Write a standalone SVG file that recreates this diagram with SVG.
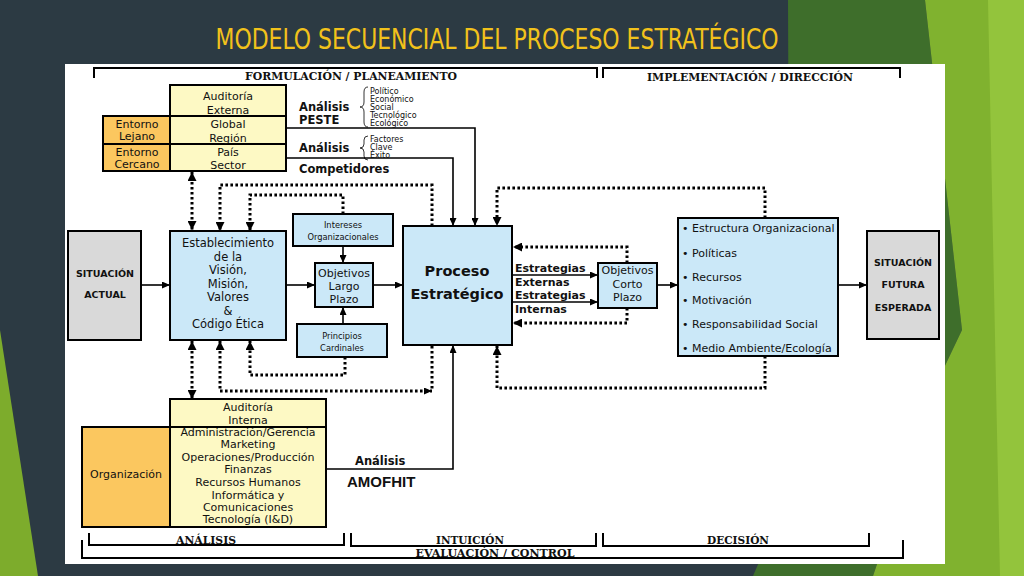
<svg xmlns="http://www.w3.org/2000/svg" width="1024" height="576" viewBox="0 0 1024 576">
<defs>
<style>
.box{stroke:#000;stroke-width:2}
.blue{fill:#cbe8f8}
.yel{fill:#fdf9c4}
.org{fill:#fbc75f}
.gray{fill:#d9d9d9}
.t{font-family:"DejaVu Sans",Verdana,sans-serif;fill:#111;text-anchor:middle}
.b{font-family:"DejaVu Sans",Verdana,sans-serif;font-weight:bold;fill:#111}
.s{font-family:"DejaVu Serif",serif;font-weight:bold;fill:#111;text-anchor:middle;font-size:10.5px}
.sol{fill:none;stroke:#000;stroke-width:1.6}
.dot{fill:none;stroke:#000;stroke-width:3;stroke-dasharray:2.6 2.4}
.brk{fill:none;stroke:#000;stroke-width:2}
.brc{fill:none;stroke:#000;stroke-width:0.8}
</style>
<marker id="as" markerUnits="userSpaceOnUse" markerWidth="8" markerHeight="7" refX="8" refY="3.5" orient="auto-start-reverse"><path d="M0,0 L8,3.5 L0,7 z" fill="#000"/></marker>
<marker id="ad" markerUnits="userSpaceOnUse" markerWidth="9" markerHeight="9" refX="9" refY="4.5" orient="auto-start-reverse"><path d="M0,0 L9,4.5 L0,9 z" fill="#000"/></marker>
</defs>
<!-- background -->
<rect x="0" y="0" width="1024" height="576" fill="#2c3a43"/>
<polygon points="788,0 925,0 962,330 942,372 873,576 753,576 790,490" fill="#3e6e2b"/>
<polygon points="925,0 1024,0 1024,576 873,576 942,372 962,330" fill="#80b22f"/>
<polygon points="988,0 1024,0 1024,576 1000,576" fill="#93c43c"/>
<polygon points="0,330 38,576 0,576" fill="#7dac2c"/>
<text x="497" y="49" font-family="'Liberation Sans Narrow','DejaVu Sans Condensed',sans-serif" font-size="28" fill="#f2c21b" text-anchor="middle" textLength="563" lengthAdjust="spacingAndGlyphs">MODELO SECUENCIAL DEL PROCESO ESTRATÉGICO</text>
<rect x="65" y="64" width="880" height="500" fill="#fff"/>

<!-- brackets -->
<g id="brackets">
<path class="brk" d="M94,78 V68 H597 V78"/>
<path class="brk" d="M603,78 V68 H900 V78"/>
<text class="s" x="351" y="80" textLength="212" lengthAdjust="spacingAndGlyphs">FORMULACIÓN  / PLANEAMIENTO</text>
<text class="s" x="750" y="81" textLength="206" lengthAdjust="spacingAndGlyphs">IMPLEMENTACIÓN  / DIRECCIÓN</text>
<path class="brk" d="M89,533 V545 H344 V533"/>
<path class="brk" d="M351,533 V546 H596 V533"/>
<path class="brk" d="M603,533 V546 H869 V533"/>
<path class="brk" d="M82,540 V558 H903 V540"/>
<text class="s" x="206" y="543.5" textLength="60" lengthAdjust="spacingAndGlyphs">ANÁLISIS</text>
<text class="s" x="470" y="544" textLength="68" lengthAdjust="spacingAndGlyphs">INTUICIÓN</text>
<text class="s" x="738" y="544" textLength="62" lengthAdjust="spacingAndGlyphs">DECISIÓN</text>
<text class="s" x="495" y="556.5" textLength="159" lengthAdjust="spacingAndGlyphs">EVALUACIÓN  / CONTROL</text>
</g>

<!-- connectors -->
<g id="connectors">
<path class="sol" d="M141,285 H170" marker-end="url(#as)"/>
<path class="sol" d="M286,285 H315" marker-end="url(#as)"/>
<path class="sol" d="M343,246 V263" marker-end="url(#as)"/>
<path class="sol" d="M343,324 V307" marker-end="url(#as)"/>
<path class="sol" d="M373,285 H403" marker-end="url(#as)"/>
<path class="sol" d="M286,128 H475 V226" marker-end="url(#as)"/>
<path class="sol" d="M286,158 H453 V226" marker-end="url(#as)"/>
<path class="sol" d="M512,275 H598" marker-end="url(#as)"/>
<path class="sol" d="M512,302 H598" marker-end="url(#as)"/>
<path class="sol" d="M657,285 H678" marker-end="url(#as)"/>
<path class="sol" d="M838,285 H867" marker-end="url(#as)"/>
<path class="sol" d="M326,469 H453 V345" marker-end="url(#as)"/>
<path class="dot" d="M192,172 V230" marker-start="url(#ad)" marker-end="url(#ad)"/>
<path class="dot" d="M432,226 V185 H220 V231" marker-end="url(#ad)"/>
<path class="dot" d="M343,214 V195 H250 V231" marker-end="url(#ad)"/>
<path class="dot" d="M765,218 V188 H497 V226" marker-end="url(#ad)"/>
<path class="dot" d="M627,263 V247 H513" marker-end="url(#ad)"/>
<path class="dot" d="M627,308 V323 H513" marker-end="url(#ad)"/>
<path class="dot" d="M192,341 V399" marker-start="url(#ad)" marker-end="url(#ad)"/>
<path class="dot" d="M220,341 V391 H432" marker-start="url(#ad)" marker-end="url(#as)"/>
<path class="dot" d="M432,346 V391"/>
<path class="dot" d="M345,357 V375 H250 V341" marker-end="url(#ad)"/>
<path class="dot" d="M765,356 V388 H497 V346" marker-end="url(#ad)"/>
</g>

<!-- external audit -->
<g id="auditoria-externa">
<rect class="box yel" x="170" y="85" width="116" height="86"/>
<line class="box" x1="170" y1="116" x2="286" y2="116"/>
<line class="box" x1="170" y1="144" x2="286" y2="144"/>
<text class="t" font-size="11" x="228" y="100">Auditoría</text>
<text class="t" font-size="11" x="228" y="114">Externa</text>
<text class="t" font-size="11" x="228" y="128">Global</text>
<text class="t" font-size="11" x="228" y="142">Región</text>
<text class="t" font-size="11" x="228" y="156">País</text>
<text class="t" font-size="11" x="228" y="169">Sector</text>
</g>
<g id="entorno-lejano">
<rect class="box org" x="103" y="116" width="67" height="28"/>
<text class="t" font-size="11" x="137" y="128">Entorno</text>
<text class="t" font-size="11" x="137" y="140">Lejano</text>
</g>
<g id="entorno-cercano">
<rect class="box org" x="103" y="144" width="67" height="27"/>
<text class="t" font-size="11" x="137" y="156">Entorno</text>
<text class="t" font-size="11" x="137" y="168">Cercano</text>
</g>

<!-- analysis labels -->
<g id="analisis-peste">
<text class="b" font-size="11.5" x="299" y="111">Análisis</text>
<text class="b" font-size="11.5" x="299" y="124">PESTE</text>
<path class="brc" d="M368,87 Q364,87 364,92 V102 Q364,107 360,107 Q364,107 364,112 V122 Q364,127 368,127"/>
<g class="t" font-size="8" style="text-anchor:start">
<text x="370" y="94">Político</text>
<text x="370" y="102">Económico</text>
<text x="370" y="110">Social</text>
<text x="370" y="118">Tecnológico</text>
<text x="370" y="126">Ecológico</text>
</g>
</g>
<g id="analisis-fce">
<text class="b" font-size="11.5" x="299" y="152">Análisis</text>
<path class="brc" d="M368,136 Q364,136 364,140 V144 Q364,148 360,148 Q364,148 364,152 V156 Q364,160 368,160"/>
<g class="t" font-size="8" style="text-anchor:start">
<text x="370" y="142">Factores</text>
<text x="370" y="150">Clave</text>
<text x="370" y="158">Éxito</text>
</g>
</g>
<g id="competidores">
<text class="b" font-size="11.5" x="299" y="173">Competidores</text>
</g>

<!-- situacion actual -->
<g id="situacion-actual">
<rect class="box gray" x="68" y="231" width="73" height="109"/>
<text class="b" font-size="9.5" x="105" y="277" text-anchor="middle">SITUACIÓN</text>
<text class="b" font-size="9.5" x="105" y="298" text-anchor="middle">ACTUAL</text>
</g>

<g id="establecimiento">
<rect class="box blue" x="170" y="231" width="116" height="109"/>
<g class="t" font-size="11.5">
<text x="228" y="247">Establecimiento</text>
<text x="228" y="261">de la</text>
<text x="228" y="274">Visión,</text>
<text x="228" y="288">Misión,</text>
<text x="228" y="301">Valores</text>
<text x="228" y="315">&amp;</text>
<text x="228" y="328">Código  Ética</text>
</g>
</g>

<g id="intereses">
<rect class="box blue" x="293" y="214" width="100" height="32"/>
<text class="t" font-size="8.3" x="343" y="228">Intereses</text>
<text class="t" font-size="8.3" x="343" y="240">Organizacionales</text>
</g>
<g id="objetivos-lp">
<rect class="box blue" x="315" y="263" width="58" height="44"/>
<text class="t" font-size="11" x="344" y="277">Objetivos</text>
<text class="t" font-size="11" x="344" y="290">Largo</text>
<text class="t" font-size="11" x="344" y="303">Plazo</text>
</g>
<g id="principios">
<rect class="box blue" x="297" y="324" width="90" height="33"/>
<text class="t" font-size="8.3" x="342" y="339">Principios</text>
<text class="t" font-size="8.3" x="342" y="351">Cardinales</text>
</g>

<g id="proceso">
<rect class="box blue" x="403" y="226" width="109" height="119"/>
<text class="b" font-size="14.5" x="457" y="276" text-anchor="middle">Proceso</text>
<text class="b" font-size="14.5" x="457" y="299" text-anchor="middle">Estratégico</text>
</g>

<g id="estrategias">
<text class="b" font-size="11" x="515" y="272">Estrategias</text>
<text class="b" font-size="11" x="515" y="286">Externas</text>
<text class="b" font-size="11" x="515" y="299">Estrategias</text>
<text class="b" font-size="11" x="515" y="313">Internas</text>
</g>

<g id="objetivos-cp">
<rect class="box blue" x="598" y="263" width="59" height="45"/>
<text class="t" font-size="11" x="627.5" y="274">Objetivos</text>
<text class="t" font-size="11" x="627.5" y="288">Corto</text>
<text class="t" font-size="11" x="627.5" y="301">Plazo</text>
</g>

<g id="implementacion">
<rect class="box blue" x="678" y="218" width="160" height="138"/>
<g class="t" font-size="11" style="text-anchor:start">
<text x="682" y="232">•</text><text x="692" y="232">Estructura Organizacional</text>
<text x="682" y="257">•</text><text x="692" y="257">Políticas</text>
<text x="682" y="281">•</text><text x="692" y="281">Recursos</text>
<text x="682" y="304">•</text><text x="692" y="304">Motivación</text>
<text x="682" y="328">•</text><text x="692" y="328">Responsabilidad  Social</text>
<text x="682" y="352">•</text><text x="692" y="352">Medio Ambiente/Ecología</text>
</g>
</g>

<g id="situacion-futura">
<rect class="box gray" x="867" y="231" width="72" height="108"/>
<text class="b" font-size="9.5" x="903" y="266" text-anchor="middle">SITUACIÓN</text>
<text class="b" font-size="9.5" x="903" y="288" text-anchor="middle">FUTURA</text>
<text class="b" font-size="9.5" x="903" y="311" text-anchor="middle">ESPERADA</text>
</g>

<g id="auditoria-interna">
<rect class="box yel" x="170" y="399" width="156" height="128"/>
<line class="box" x1="170" y1="427" x2="326" y2="427"/>
<g class="t" font-size="11">
<text x="248" y="411">Auditoría</text>
<text x="248" y="424">Interna</text>
<text x="248" y="436">Administración/Gerencia</text>
<text x="248" y="448">Marketing</text>
<text x="248" y="461">Operaciones/Producción</text>
<text x="248" y="473">Finanzas</text>
<text x="248" y="486">Recursos Humanos</text>
<text x="248" y="499">Informática y</text>
<text x="248" y="511">Comunicaciones</text>
<text x="248" y="523">Tecnología (I&amp;D)</text>
</g>
</g>
<g id="organizacion">
<rect class="box org" x="82" y="427" width="88" height="100"/>
<text class="t" font-size="11" x="126" y="478">Organización</text>
</g>

<g id="amofhit">
<text class="b" font-size="11.5" x="355" y="465">Análisis</text>
<text x="347" y="487" font-family="'Liberation Sans',Arial,sans-serif" font-weight="bold" font-size="15" fill="#111">AMOFHIT</text>
</g>
</svg>
